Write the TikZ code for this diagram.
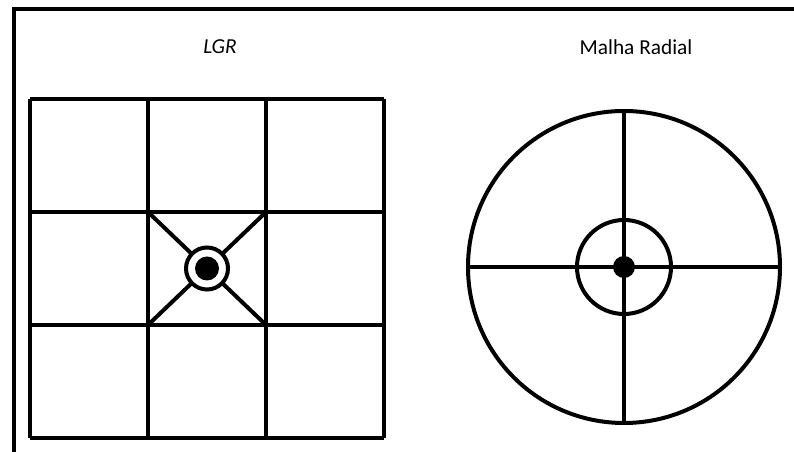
\documentclass[tikz,border=0pt]{standalone}
\usepackage{fontspec}
\setmainfont{Carlito}
\usepackage{tikz}
\usetikzlibrary{positioning,calc}

\begin{document}
\begin{tikzpicture}[
    x=0.75pt, y=-0.75pt,
    every node/.style={font=\fontsize{16}{19}\selectfont},
    thk/.style={line width=3pt, black},
    ttl/.style={anchor=center, inner sep=0pt},
    ringnd/.style={thk, fill=white},
    dotnd/.style={fill=black},
]

% ── Canvas ──
\useasboundingbox (0,0) rectangle (794,452);

% ── Frame (top and left only) ──
\coordinate (fr) at (14,9);
\draw[thk] (794,9) -- (fr) -- (14,452);

% ── Titles ──
\node[ttl] (tlgr) at (220,47) {\textit{LGR}};
\node[ttl] (trad) at (636,47) {Malha Radial};

% ── LGR grid ──
\def\gl{30}  % grid left
\def\gt{99}  % grid top
\def\cw{118} % cell width
\def\ch{113} % cell height
\foreach \i in {0,...,3} {
  \draw[thk] (\gl+\i*\cw,\gt) -- (\gl+\i*\cw,\gt+3*\ch);
  \draw[thk] (\gl,\gt+\i*\ch) -- (\gl+3*\cw,\gt+\i*\ch);
}
\coordinate (lc) at (\gl+1.5*\cw,\gt+1.5*\ch);
% diagonals of the centre cell
\draw[thk] (\gl+\cw,\gt+\ch) -- (\gl+2*\cw,\gt+2*\ch);
\draw[thk] (\gl+2*\cw,\gt+\ch) -- (\gl+\cw,\gt+2*\ch);
\draw[ringnd] (lc) circle[radius=21];
\fill[dotnd] (lc) circle[radius=12];

% ── Radial mesh ──
\coordinate (rc) at (624,267);
\draw[thk] (rc) circle[radius=156];
\draw[thk] (rc) circle[radius=47];
\draw[thk] ($(rc)+(-156,0)$) -- ($(rc)+(156,0)$);
\draw[thk] ($(rc)+(0,-156)$) -- ($(rc)+(0,156)$);
\fill[dotnd] (rc) circle[radius=11];

\end{tikzpicture}
\end{document}
